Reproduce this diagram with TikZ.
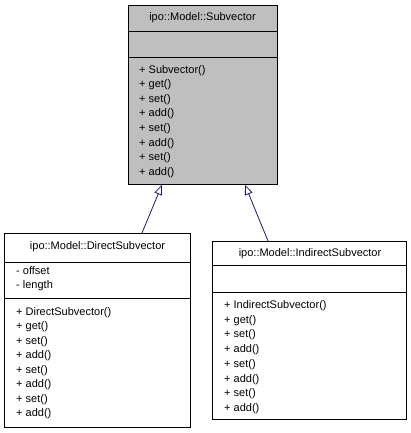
\documentclass[tikz,border=0pt]{standalone}
\usepackage{fontspec}
\setmainfont{Liberation Sans}
\usetikzlibrary{arrows.meta,calc}
\definecolor{navyline}{HTML}{191970}
\definecolor{boxgray}{HTML}{BFBFBF}
\begin{document}
\begin{tikzpicture}[x=1pt,y=-1pt,
 box/.style={draw=black,line width=0.8pt,inner sep=0pt,anchor=north west},
 txt/.style={inner sep=0pt,font=\fontsize{11}{13}\selectfont},
 mem/.style={txt,anchor=base west},
 ttl/.style={txt,anchor=base},
 sep/.style={draw=black,line width=0.8pt},
 inh/.style={draw=navyline,line width=0.8pt,-{Triangle[open,length=10pt,width=8pt]}}]
\useasboundingbox (0,0) rectangle (411,433);
% base class
\node[box,fill=boxgray,minimum width=149pt,minimum height=179pt] (sub) at (128,5) {};
\draw[sep] ($(sub.north west)+(0,26)$) -- ($(sub.north east)+(0,26)$);
\draw[sep] ($(sub.north west)+(0,52)$) -- ($(sub.north east)+(0,52)$);
\node[ttl] (subt) at (202.5,20.8) {ipo::Model::Subvector};
\foreach \t [count=\i from 0] in {Subvector(),get(),set(),add(),set(),add(),set(),add()}
  \node[mem] (subm\i) at (139,73.5+14.5*\i) {+ \t};
% DirectSubvector
\node[box,fill=white,minimum width=186pt,minimum height=194pt] (dir) at (4,233) {};
\draw[sep] ($(dir.north west)+(0,29)$) -- ($(dir.north east)+(0,29)$);
\draw[sep] ($(dir.north west)+(0,65)$) -- ($(dir.north east)+(0,65)$);
\node[ttl] (dirt) at (97.5,249.3) {ipo::Model::DirectSubvector};
\node[mem] (dira0) at (16,274.3) {- offset};
\node[mem] (dira1) at (16,288.8) {- length};
\foreach \t [count=\i from 0] in {DirectSubvector(),get(),set(),add(),set(),add(),set(),add()}
  \node[mem] (dirm\i) at (16,315+14.5*\i) {+ \t};
% IndirectSubvector
\node[box,fill=white,minimum width=194pt,minimum height=178pt] (ind) at (212,241) {};
\draw[sep] ($(ind.north west)+(0,24)$) -- ($(ind.north east)+(0,24)$);
\draw[sep] ($(ind.north west)+(0,51)$) -- ($(ind.north east)+(0,51)$);
\node[ttl] (indt) at (310,256) {ipo::Model::IndirectSubvector};
\foreach \t [count=\i from 0] in {IndirectSubvector(),get(),set(),add(),set(),add(),set(),add()}
  \node[mem] (indm\i) at (224,308.3+14.77*\i) {+ \t};
% inheritance arrows
\draw[inh] ($(dir.north west)+(138,0)$) -- ($(sub.south west)+(34,0)$);
\draw[inh] ($(ind.north west)+(56,0)$) -- ($(sub.south west)+(117,0)$);
\end{tikzpicture}
\end{document}
